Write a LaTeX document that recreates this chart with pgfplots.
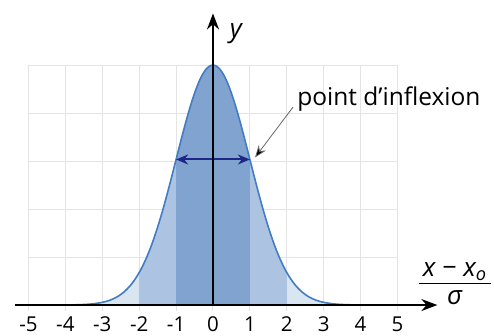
\documentclass[border=0pt]{standalone}
\usepackage{fontspec}
\setmainfont{Open Sans}
\usepackage{pgfplots}
\usepackage{pgfplotstable}
\pgfplotsset{compat=1.18}
\usetikzlibrary{arrows.meta}

\definecolor{curveblue}{RGB}{66,125,195}
\definecolor{fillmid}{RGB}{128,163,207}
\definecolor{filllight}{RGB}{172,196,226}
\definecolor{fillpale}{RGB}{218,229,242}
\definecolor{navy}{RGB}{30,38,135}
\definecolor{gridgray}{RGB}{228,228,228}

% standard normal shape exp(-u^2/2), tabulated
\pgfplotstableread{
u y
-4.0 0.0003
-3.8 0.0007
-3.6 0.0015
-3.4 0.0031
-3.2 0.0060
-3.0 0.0111
-2.9 0.0149
-2.8 0.0198
-2.7 0.0261
-2.6 0.0340
-2.5 0.0439
-2.4 0.0561
-2.3 0.0710
-2.2 0.0889
-2.1 0.1103
-2.0 0.1353
-1.9 0.1645
-1.8 0.1979
-1.7 0.2357
-1.6 0.2780
-1.5 0.3247
-1.4 0.3753
-1.3 0.4296
-1.2 0.4868
-1.1 0.5461
-1.0 0.6065
-0.9 0.6670
-0.8 0.7261
-0.7 0.7827
-0.6 0.8353
-0.5 0.8825
-0.4 0.9231
-0.3 0.9560
-0.2 0.9802
-0.1 0.9950
0.0 1.0000
0.1 0.9950
0.2 0.9802
0.3 0.9560
0.4 0.9231
0.5 0.8825
0.6 0.8353
0.7 0.7827
0.8 0.7261
0.9 0.6670
1.0 0.6065
1.1 0.5461
1.2 0.4868
1.3 0.4296
1.4 0.3753
1.5 0.3247
1.6 0.2780
1.7 0.2357
1.8 0.1979
1.9 0.1645
2.0 0.1353
2.1 0.1103
2.2 0.0889
2.3 0.0710
2.4 0.0561
2.5 0.0439
2.6 0.0340
2.7 0.0261
2.8 0.0198
2.9 0.0149
3.0 0.0111
3.2 0.0060
3.4 0.0031
3.6 0.0015
3.8 0.0007
4.0 0.0003
4.5 0.0000
}\gauss

\begin{document}
\begin{tikzpicture}
\begin{axis}[
  scale only axis, width=494pt, height=336pt,
  xmin=-5.772, xmax=7.615, ymin=-0.129, ymax=1.271,
  hide axis, clip=false,
]
% grid
\foreach \i in {-5,...,5} {
  \edef\tmp{\noexpand\draw[gridgray, line width=1pt] (axis cs:\i,-0.025) -- (axis cs:\i,1);}\tmp
}
\foreach \j in {0.2,0.4,0.6,0.8,1.0} {
  \edef\tmp{\noexpand\draw[gridgray, line width=1pt] (axis cs:-5,\j) -- (axis cs:5,\j);}\tmp
}

% shaded bands under the curve
\addplot[fill=fillpale, draw=none, restrict x to domain=-4:-2] table[x=u,y=y] {\gauss} \closedcycle;
\addplot[fill=fillpale, draw=none, restrict x to domain=2:4.5] table[x=u,y=y] {\gauss} \closedcycle;
\addplot[fill=filllight, draw=none, restrict x to domain=-2:-1] table[x=u,y=y] {\gauss} \closedcycle;
\addplot[fill=filllight, draw=none, restrict x to domain=1:2] table[x=u,y=y] {\gauss} \closedcycle;
\addplot[fill=fillmid, draw=none, restrict x to domain=-1:1] table[x=u,y=y] {\gauss} \closedcycle;

% the curve
\addplot[curveblue, line width=1.6pt, smooth] table[x=u,y=y] {\gauss};

% width at the inflection points
\draw[navy, line width=2pt, {Stealth[length=12pt,width=10pt]}-{Stealth[length=12pt,width=10pt]}]
  (axis cs:-1,0.6065) -- (axis cs:1,0.6065);

% axes
\draw[black, line width=2pt, -{Stealth[length=16pt,width=12pt]}] (axis cs:-5.37,0) -- (axis cs:6.08,0);
\draw[black, line width=2pt, -{Stealth[length=16pt,width=12pt]}] (axis cs:0,0) -- (axis cs:0,1.215);

% tick labels
\foreach \i in {-5,...,5} {
  \edef\tmp{\noexpand\node[anchor=base, inner sep=0pt, font=\noexpand\fontsize{20.5}{24}\noexpand\selectfont] at (axis cs:\i,-0.112) {\i};}\tmp
}

% labels
\node[font=\fontsize{26}{30}\selectfont\itshape] at (axis cs:0.62,1.13) {y};
\node[font=\fontsize{26}{30}\selectfont\itshape, inner sep=0pt] at (axis cs:6.55,0.085)
  {\begin{tabular}{@{\,}c@{\,}}x − x\textsubscript{o}\\[-3pt]\hline σ\end{tabular}};

% annotation
\node[anchor=west, inner sep=0pt, font=\fontsize{24.5}{28}\selectfont] at (axis cs:2.28,0.86) {point d’inflexion};
\draw[gray!80!black, line width=0.8pt, -{Stealth[length=12pt,width=9pt,fill=black]}]
  (axis cs:2.17,0.825) -- (axis cs:1.14,0.615);
\end{axis}
\pgfresetboundingbox
\path[use as bounding box] (current axis.south west) rectangle (current axis.north east);
\end{tikzpicture}
\end{document}
